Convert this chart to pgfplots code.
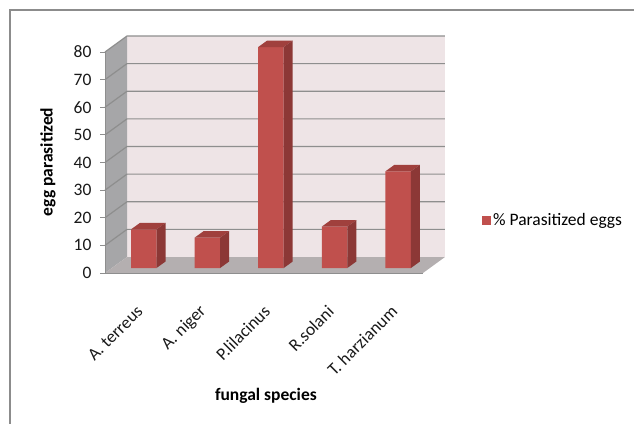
\documentclass[border=0pt]{standalone}
\usepackage{fontspec}
\setmainfont{Carlito}
\usepackage{pgfplots}
\usepackage{pgfplotstable}
\pgfplotsset{compat=1.18}

\definecolor{barfront}{HTML}{C0504D}
\definecolor{barside}{HTML}{8C3836}
\definecolor{bartop}{HTML}{A0403D}
\definecolor{backwall}{HTML}{EEE4E6}
\definecolor{sidewall}{HTML}{A6A6A8}
\definecolor{floorgrey}{HTML}{B4AFB0}
\definecolor{gridgrey}{HTML}{8E8E8E}
\definecolor{framegrey}{HTML}{8C8C8C}

% percentage of parasitized eggs per fungal species
\pgfplotstableread{
idx val
0 14
1 11
2 80
3 15
4 35
}\parasitized

\newcommand{\lblfont}{\fontsize{17.5}{21}\selectfont}

\begin{document}
\begin{tikzpicture}
\useasboundingbox (0,0) rectangle (634pt,423pt);
\draw[framegrey, line width=1.2pt] (10pt,-2pt) -- (10pt,413pt) -- (640pt,413pt);
\begin{axis}[
  at={(112pt,155pt)}, anchor=south west,
  scale only axis, width=318pt, height=221pt,
  xmin=-0.5, xmax=4.5, ymin=0, ymax=80,
  clip=false,
  axis line style={draw=none},
  major tick length=0pt,
  xtick={0,...,4},
  xticklabels={A. terreus, A. niger, P.lilacinus, R.solani, T. harzianum},
  ytick={0,10,...,80},
  /pgf/number format/assume math mode=true,
  tick label style={font=\lblfont, text=black!90},
  xticklabel style={rotate=45, anchor=east, xshift=-28pt, yshift=-26pt},
  yticklabel style={anchor=east, xshift=-17pt, yshift=-5pt},
  xlabel={fungal species}, ylabel={egg parasitized},
  label style={font=\lblfont\bfseries},
  xlabel style={at={(axis description cs:0.484,-0.579)}, anchor=center},
  ylabel style={at={(axis description cs:-0.2013,0.48)}, anchor=center},
  legend style={at={(axis description cs:1.1635,0.215)}, anchor=west,
    draw=none, fill=none, font=\lblfont, inner sep=0pt},
  legend image code/.code={\fill[barfront] (0pt,-4.5pt) rectangle (9pt,4.5pt);},
]
% back wall and left side wall
\fill[backwall] ([shift={(15pt,11pt)}]axis cs:-0.5,0) rectangle ([shift={(15pt,11pt)}]axis cs:4.5,80);
\fill[sidewall] ([shift={(-7pt,-5pt)}]axis cs:-0.5,0) -- ([shift={(15pt,11pt)}]axis cs:-0.5,0)
  -- ([shift={(15pt,11pt)}]axis cs:-0.5,80) -- ([shift={(-7pt,-5pt)}]axis cs:-0.5,80) -- cycle;
% grid lines running across the side wall and the back wall
\pgfplotsinvokeforeach{10,20,...,80}{
  \draw[gridgrey, line width=1.2pt] ([shift={(-7pt,-5pt)}]axis cs:-0.5,#1)
    -- ([shift={(15pt,11pt)}]axis cs:-0.5,#1) -- ([shift={(15pt,11pt)}]axis cs:4.5,#1);
}
% floor
\fill[floorgrey] ([shift={(-7pt,-5pt)}]axis cs:-0.5,0) -- ([shift={(-7pt,-5pt)}]axis cs:4.5,0)
  -- ([shift={(15pt,11pt)}]axis cs:4.5,0) -- ([shift={(15pt,11pt)}]axis cs:-0.5,0) -- cycle;
% front value axis with its ticks
\draw[gridgrey, line width=1pt] ([shift={(-7pt,-5pt)}]axis cs:-0.5,0) -- ([shift={(-7pt,-5pt)}]axis cs:-0.5,80);
\draw[gridgrey, line width=1pt] ([shift={(-7pt,-5pt)}]axis cs:-0.5,0) -- ([shift={(-7pt,-5pt)}]axis cs:4.5,0);
\pgfplotsinvokeforeach{0,10,...,80}{
  \draw[gridgrey, line width=1pt] ([shift={(-7pt,-5pt)}]axis cs:-0.5,#1) -- ++(-5pt,0pt);
}
% bar front faces
\addplot[ybar, bar shift=0pt, bar width=25.5pt, fill=barfront, draw=none]
  table[x=idx, y=val]{\parasitized};
\addlegendentry{\% Parasitized eggs}
% top and side faces of each bar
\pgfplotsforeachungrouped \i in {0,...,4}{
  \pgfplotstablegetelem{\i}{val}\of\parasitized
  \edef\barfaces{%
    \noexpand\fill[bartop] ([shift={(-12.75pt,0pt)}]axis cs:\i,\pgfplotsretval)
      -- ([shift={(12.75pt,0pt)}]axis cs:\i,\pgfplotsretval)
      -- ([shift={(21.75pt,6.5pt)}]axis cs:\i,\pgfplotsretval)
      -- ([shift={(-3.75pt,6.5pt)}]axis cs:\i,\pgfplotsretval) -- cycle;
    \noexpand\fill[barside] ([shift={(12.75pt,0pt)}]axis cs:\i,0)
      -- ([shift={(21.75pt,6.5pt)}]axis cs:\i,0)
      -- ([shift={(21.75pt,6.5pt)}]axis cs:\i,\pgfplotsretval)
      -- ([shift={(12.75pt,0pt)}]axis cs:\i,\pgfplotsretval) -- cycle;
  }%
  \barfaces
}
\end{axis}
\end{tikzpicture}
\end{document}
